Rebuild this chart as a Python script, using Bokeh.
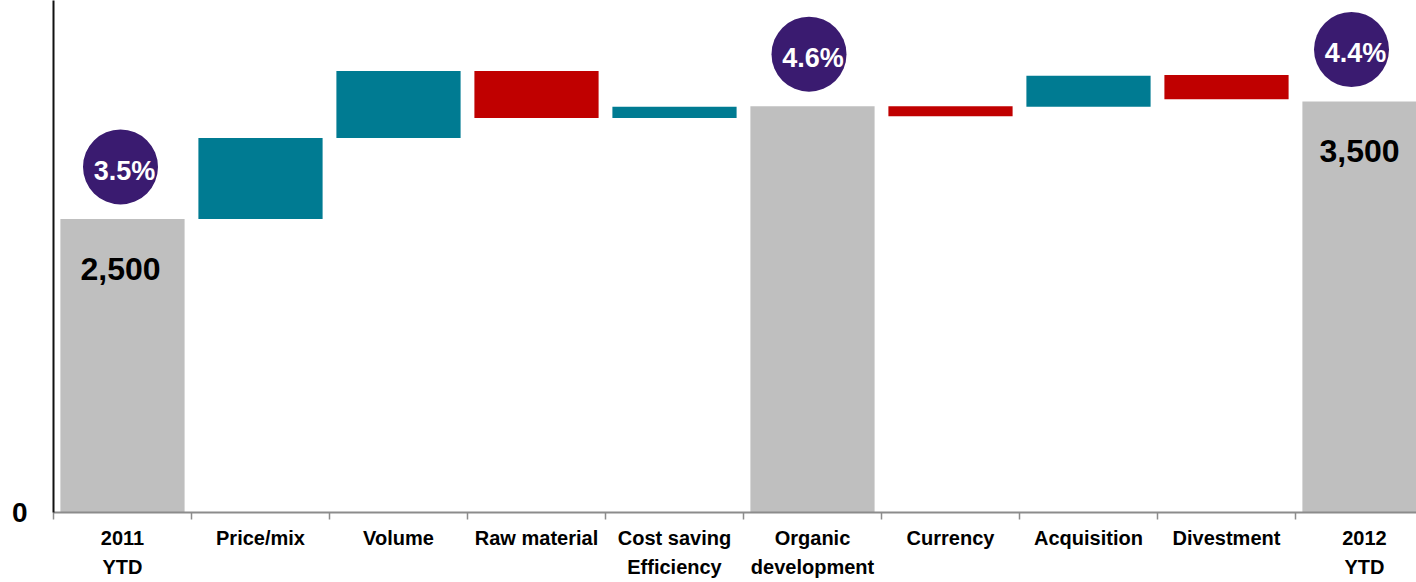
from bokeh.plotting import figure
from bokeh.models import Range1d, FixedTicker, ColumnDataSource
from bokeh.core.properties import value
from bokeh.embed import file_html
from bokeh.resources import INLINE

# ---- data ----
categories = ["2011\nYTD", "Price/mix", "Volume", "Raw material", "Cost saving\nEfficiency",
              "Organic\ndevelopment", "Currency", "Acquisition", "Divestment", "2012\nYTD"]
bar_low = [0, 2500, 3190, 3360, 3360, 0, 3375, 3455, 3520, 0]
bar_high = [2500, 3190, 3760, 3760, 3455, 3460, 3460, 3720, 3725, 3500]
bar_kind = ["total", "up", "up", "down", "up", "total", "down", "up", "down", "total"]
margin_index = [0, 5, 9]
margin_labels = ["3.5%", "4.6%", "4.4%"]
value_index = [0, 9]
value_labels = ["2,500", "3,500"]
y_ticks = [0]

# ---- style ----
W, H = 1416, 582
LEFT, BOTTOM = 53, 70
CAT_PX = 138
Y_END = 4360
FRAME_H = H - BOTTOM
PX = FRAME_H / Y_END  # pixels per unit
colors = {"total": "#BFBFBF", "up": "#007B92", "down": "#C00000"}
FONT = value("Liberation Sans")

x_end = -0.5 + (W - LEFT) / CAT_PX

p = figure(width=W, height=H, output_backend="svg", toolbar_location=None,
           x_range=Range1d(-0.5, x_end), y_range=Range1d(0, Y_END),
           min_border_left=LEFT, min_border_bottom=BOTTOM, min_border_top=0,
           min_border_right=0, tools="")
p.outline_line_color = None
p.xgrid.visible = False
p.ygrid.visible = False
p.background_fill_color = "white"
p.border_fill_color = "white"

xs = list(range(len(categories)))
src = ColumnDataSource(dict(x=xs, low=bar_low, high=bar_high,
                            color=[colors[k] for k in bar_kind]))
p.vbar(x="x", bottom="low", top="high", width=0.9, fill_color="color",
       line_color=None, source=src)

# margin circles
c_dx = {0: -2, 5: -3.5, 9: -13}
cx = [i + c_dx[i] / CAT_PX for i in margin_index]
cy = [bar_high[i] + 52 / PX for i in margin_index]
p.scatter(x=cx, y=cy, size=75, marker="circle", fill_color="#3A1B70", line_color=None)
p.text(x=cx, y=cy, text=margin_labels, x_offset=4, y_offset=4,
       text_font=FONT, text_font_style="bold", text_font_size="27px",
       text_color="white", text_align="center", text_baseline="middle")

# value labels inside total bars
v_dx = {0: -2, 9: -5}
vx = [i + v_dx[i] / CAT_PX for i in value_index]
vy = [bar_high[i] - 50 / PX for i in value_index]
p.text(x=vx, y=vy, text=value_labels, text_font=FONT, text_font_style="bold",
       text_font_size="32px", text_color="black", text_align="center",
       text_baseline="middle")

# x axis
xa = p.xaxis[0]
xa.ticker = FixedTicker(ticks=xs, minor_ticks=[i - 0.5 for i in range(len(categories) + 1)])
xa.major_label_overrides = {i: c for i, c in enumerate(categories)}
xa.major_tick_out = 0
xa.major_tick_in = 0
xa.minor_tick_out = 7
xa.minor_tick_in = 0
xa.minor_tick_line_color = "#8C8C8C"
xa.minor_tick_line_width = 1.5
xa.axis_line_color = "#8C8C8C"
xa.axis_line_width = 2
xa.major_label_standoff = 7
xa.major_label_text_font = "Liberation Sans"
xa.major_label_text_font_style = "bold"
xa.major_label_text_font_size = "20px"
xa.major_label_text_color = "black"
xa.major_label_text_line_height = 1.35

# y axis
ya = p.yaxis[0]
ya.ticker = FixedTicker(ticks=y_ticks)
ya.major_tick_out = 0
ya.major_tick_in = 0
ya.minor_tick_out = 0
ya.minor_tick_in = 0
ya.axis_line_color = "#111111"
ya.axis_line_width = 2
ya.major_label_standoff = 26
ya.major_label_text_font = "Liberation Sans"
ya.major_label_text_font_style = "bold"
ya.major_label_text_font_size = "28px"
ya.major_label_text_color = "black"

open("out.html", "w").write(file_html(p, INLINE))
